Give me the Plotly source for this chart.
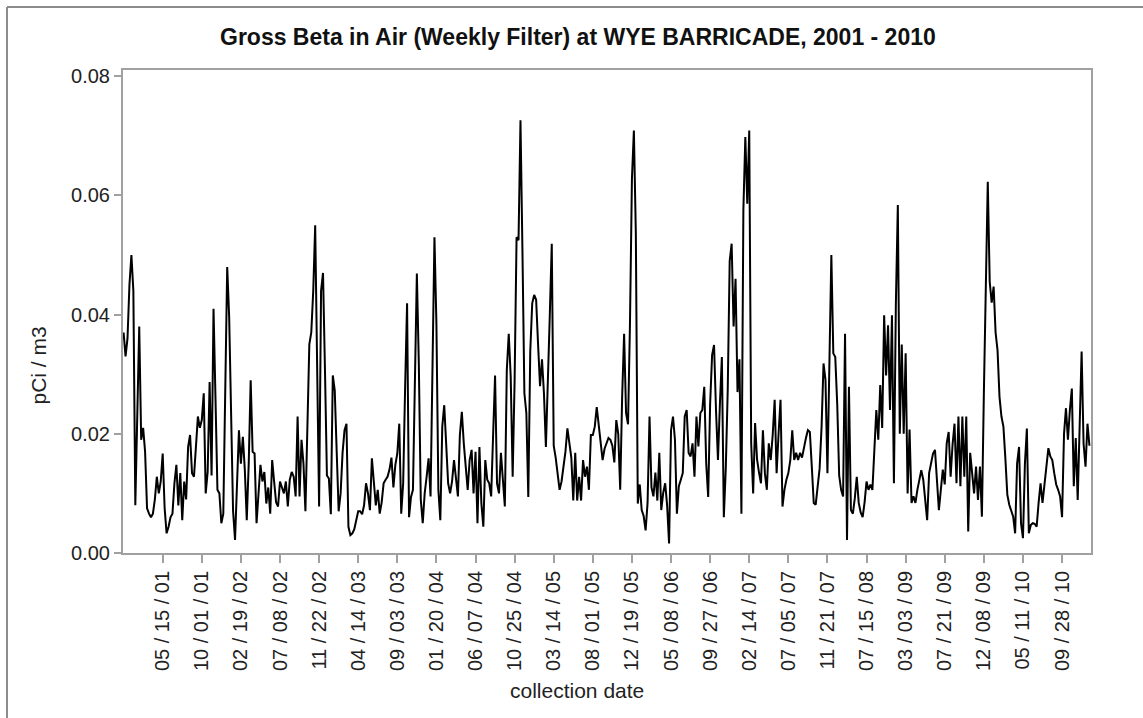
import plotly.graph_objects as go

beta_2001_2002 = [
    37, 33, 36, 45, 50, 44, 8, 23, 38, 19,
    21, 17, 7.5, 6.6, 6, 6.6, 9, 12.8, 10, 12,
    16.7, 7.5, 3.3, 4.4, 6, 6.6, 11.7, 14.8, 8, 13.4,
    5.5, 12, 9, 17.8, 19.8, 13.4, 12.8, 17.8, 22.9, 21,
    22.3, 26.8, 10, 13.6, 28.7, 13, 41, 26, 10.6, 10,
    5, 6.6, 27.6, 48, 39.6, 19.5, 7, 2.2, 10.6, 20.6,
    15, 19.5, 14, 5.5, 15, 29, 17, 16.7, 5, 11,
    14.8, 12, 13.6, 8.3, 11, 6.6, 15.6, 12, 8.5, 7.8,
    12, 11, 10, 12, 7.8, 12.3, 13.6, 12.8, 9.5, 22.9,
    9.5, 19, 15, 7, 22.3, 35, 37, 44, 55, 32,
]
beta_2002_2004 = [
    7.8, 44, 47, 30.7, 13, 12.5, 6.5, 29.8, 27.3, 17,
    7, 10, 16.8, 20.6, 21.7, 4.4, 3, 3.3, 4, 5.5,
    7, 7, 6.5, 8, 11.7, 10, 7.2, 15.9, 11.7, 8,
    10.6, 6.6, 8.5, 11.7, 12.3, 12.8, 14, 16, 11, 14.8,
    16.7, 21.7, 6.6, 11.7, 27.9, 41.9, 6, 9.4, 10.6, 30,
    46.9, 31.8, 9, 5, 10, 12.8, 15.9, 9.5, 34.9, 53,
    38.5, 10.6, 5.5, 21.2, 24.8, 18, 11.7, 10, 12, 15.6,
    12.3, 9.5, 19.8, 23.7, 18.4, 14.5, 10.6, 15.6, 17.3, 10,
    17, 5, 17.8, 8.3, 4.4, 15.6, 12.3, 11.7, 9.5, 19.8,
    29.8, 11.7, 10, 16.8, 12.3, 7.8, 30.7, 36.8, 29.6, 12.8,
]
beta_2004_2006 = [
    29, 53, 52.5, 72.6, 50.8, 26.8, 23.5, 9.4, 33.8, 41.9,
    43.3, 42.5, 35, 28, 32.5, 26.8, 17.8, 27.3, 40, 51.9,
    18, 16, 13.4, 10.6, 12, 14.5, 17, 20.9, 18, 16,
    8.8, 16.8, 8.8, 12.8, 8.8, 15.6, 12.8, 14.5, 10.6, 19.8,
    19.8, 21.2, 24.5, 21.2, 17.8, 15.6, 17.5, 18.6, 19.3, 19,
    18, 15.2, 22.3, 20, 10.6, 26.2, 36.8, 23.5, 21.6, 38.5,
    62.8, 70.9, 53.6, 8.3, 11.5, 7.2, 6.2, 3.8, 8.4, 22.9,
    11, 9.5, 13.5, 8.8, 16.8, 7.2, 10.1, 11.7, 8, 1.6,
    20.6, 22.9, 19, 6.6, 11.2, 12.3, 13.4, 22.9, 24, 16.8,
    16.2, 18.4, 12.8, 22.9, 17.9, 23.5, 24, 27.9, 15, 9.4,
]
beta_2006_2008 = [
    25, 33.2, 34.9, 24, 15.6, 25, 32.9, 6, 14.2, 27.3,
    49, 51.9, 38, 46, 27, 32.5, 6.6, 57.5, 69.8, 58.6,
    70.9, 18.4, 10, 21.8, 15.7, 13.5, 11.7, 20.6, 13.4, 10.6,
    18.4, 15.6, 19.8, 25.7, 13.4, 20, 25.7, 7.8, 10.6, 12.3,
    13.4, 15.6, 20.6, 15.6, 16.8, 15.6, 16.8, 16, 17.9, 19.3,
    20.6, 20.3, 14.5, 8.4, 8.1, 11, 14.2, 21.2, 31.8, 29,
    13.4, 31.8, 50, 33.5, 32.9, 25, 13, 10.6, 9.5, 36.8,
    2.2, 27.9, 7.2, 6.6, 9.2, 12.8, 8.4, 6.8, 6, 8.5,
    12, 10.6, 11.5, 10.6, 17.2, 24, 19, 28.2, 21, 39.9,
    29.8, 38.2, 24, 39.9, 11.7, 41.9, 58.4, 20, 35, 20,
]
beta_2009_2010 = [
    33.5, 10, 20.7, 8.4, 9.5, 8.4, 10.6, 12.3, 13.9, 12.3,
    8.4, 5.5, 13.4, 15.1, 16.7, 17.3, 12.3, 7.2, 10.6, 14,
    11.5, 18.4, 20.3, 12.8, 18.2, 21.7, 11.7, 22.9, 11.2, 22.9,
    12.8, 22.9, 3.6, 16.8, 13.4, 10, 14.5, 8.9, 14.5, 6.1,
    26.8, 45.2, 62.3, 45.5, 42, 44.7, 37, 34, 26.2, 22.9,
    21.2, 15.9, 9.8, 8.1, 7.2, 6.1, 3.3, 15, 17.8, 5,
    2.5, 15, 20.9, 3.3, 4.7, 5, 4.9, 4.4, 8.4, 11.7,
    8.4, 11.7, 14, 17.6, 16.2, 15.6, 13.4, 11.5, 10.6, 9.5,
    6, 20, 24.3, 19, 24, 27.6, 11.2, 19.3, 8.9, 20.5,
    33.8, 18.4, 14.5, 21.7, 18,
]

tick_labels = [
    "05 / 15 / 01", "10 / 01 / 01", "02 / 19 / 02", "07 / 08 / 02", "11 / 22 / 02",
    "04 / 14 / 03", "09 / 03 / 03", "01 / 20 / 04", "06 / 07 / 04", "10 / 25 / 04",
    "03 / 14 / 05", "08 / 01 / 05", "12 / 19 / 05", "05 / 08 / 06", "09 / 27 / 06",
    "02 / 14 / 07", "07 / 05 / 07", "11 / 21 / 07", "07 / 15 / 08", "03 / 03 / 09",
    "07 / 21 / 09", "12 / 08 / 09", "05 / 11 / 10", "09 / 28 / 10",
]
y_ticks = [0.00, 0.02, 0.04, 0.06, 0.08]

milli = beta_2001_2002 + beta_2002_2004 + beta_2004_2006 + beta_2006_2008 + beta_2009_2010
gross_beta = [v / 1000.0 for v in milli]
obs = list(range(len(gross_beta)))
TICK_STEP = 20
tick_obs = [TICK_STEP * (k + 1) for k in range(len(tick_labels))]

W, H = 1143, 718
L, R, T, B = 123, 52, 70, 165
pw, ph = W - L - R, H - T - B


def px(x):
    return (x - L) / pw


def py(y):
    return (H - B - y) / ph


FONT = "Liberation Sans, Arial, sans-serif"
GRID = "#a0a0a0"

fig = go.Figure()
fig.add_trace(go.Scatter(
    x=obs, y=gross_beta, mode="lines",
    line=dict(color="#000000", width=2),
    hoverinfo="skip", showlegend=False,
))

fig.update_layout(
    width=W, height=H,
    margin=dict(l=L, r=R, t=T, b=B),
    paper_bgcolor="white", plot_bgcolor="white",
    showlegend=False,
    xaxis=dict(
        range=[-0.3, 494.8], tickmode="array", tickvals=tick_obs, ticktext=tick_labels,
        tickangle=-90, ticks="outside", ticklen=8, tickwidth=1.5, tickcolor=GRID,
        showline=True, linecolor=GRID, linewidth=2, mirror=True,
        showgrid=False, zeroline=False,
        tickfont=dict(family=FONT, size=20, color="#222222"),
    ),
    yaxis=dict(
        range=[0, 0.08105], tickmode="array", tickvals=y_ticks, tickformat=".2f",
        ticks="outside", ticklen=7, tickwidth=1.5, tickcolor=GRID,
        showline=True, linecolor=GRID, linewidth=2, mirror=True,
        showgrid=False, zeroline=False,
        tickfont=dict(family=FONT, size=20, color="#222222"),
    ),
    annotations=[
        dict(text="<b>Gross Beta in Air (Weekly Filter) at WYE BARRICADE, 2001 - 2010</b>",
             xref="paper", yref="paper", x=px(578), y=py(37), xanchor="center", yanchor="middle",
             showarrow=False, font=dict(family=FONT, size=23, color="#111111")),
        dict(text="pCi / m3", textangle=-90,
             xref="paper", yref="paper", x=px(37.5), y=py(366), xanchor="center", yanchor="middle",
             showarrow=False, font=dict(family=FONT, size=21, color="#222222")),
        dict(text="collection date",
             xref="paper", yref="paper", x=px(577), y=py(690), xanchor="center", yanchor="middle",
             showarrow=False, font=dict(family=FONT, size=21, color="#222222")),
    ],
    shapes=[
        dict(type="line", xref="paper", yref="paper", x0=px(7), x1=px(W + 2), y0=py(7), y1=py(7),
             line=dict(color="#8c8c8c", width=2)),
        dict(type="line", xref="paper", yref="paper", x0=px(7), x1=px(7), y0=py(7), y1=py(H + 2),
             line=dict(color="#8c8c8c", width=2)),
    ],
)

fig.write_html(
    "out.html",
    config={"displayModeBar": False},
    post_script="document.body.style.margin='0';document.body.style.overflow='hidden';",
)
